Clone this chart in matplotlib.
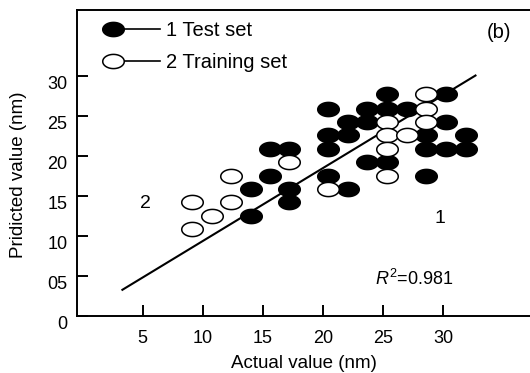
import matplotlib
matplotlib.use("Agg")
import matplotlib.pyplot as plt
import numpy as np
from matplotlib.path import Path
from matplotlib.legend_handler import HandlerLine2D
from matplotlib.lines import Line2D

plt.rcParams['font.family'] = ['Liberation Sans', 'DejaVu Sans']
plt.rcParams['mathtext.fontset'] = 'custom'
plt.rcParams['mathtext.rm'] = 'Liberation Sans'
plt.rcParams['mathtext.it'] = 'Liberation Sans:italic'

# test set (filled)
test_x = [25.35, 30.27, 20.44, 23.69, 25.35, 26.97, 22.11, 23.69, 30.27,
          20.44, 22.11, 28.62, 31.91, 15.59, 17.19, 20.44, 28.62, 30.27,
          31.91, 23.69, 25.35, 15.59, 20.44, 28.62, 13.98, 17.19, 22.11,
          17.19, 13.98]
test_y = [27.75, 27.75, 25.88, 25.88, 25.88, 25.88, 24.29, 24.29, 24.29,
          22.63, 22.63, 22.63, 22.63, 20.88, 20.88, 20.88, 20.88, 20.88,
          20.88, 19.21, 19.21, 17.54, 17.54, 17.54, 15.88, 15.88, 15.88,
          14.21, 12.46]

# training set (open)
train_x = [28.62, 28.62, 25.35, 28.62, 25.35, 26.97, 25.35, 17.19, 12.31,
           25.35, 20.44, 9.07, 12.31, 10.73, 9.07]
train_y = [27.75, 25.88, 24.29, 24.29, 22.63, 22.63, 20.88, 19.21, 17.54,
           17.54, 15.88, 14.21, 14.21, 12.46, 10.88]

# fitted line
fit_slope = 0.911
fit_icpt = 0.27
fit_x = [3.3, 32.7]

xticks = [5, 10, 15, 20, 25, 30]
xlabels = ["5", "10", "15", "20", "25", "30"]
yticks = [0, 5, 10, 15, 20, 25, 30]
ylabels = ["0", "05", "10", "15", "20", "25", "30"]

# ellipse marker (wider than tall)
t = np.linspace(0, 2 * np.pi, 60)
ell = Path(np.column_stack([np.cos(t), 0.66 * np.sin(t)]), closed=True)


class LeftMarker(HandlerLine2D):
    # marker sits at the left end of the legend line
    def create_artists(self, legend, orig_handle, xdescent, ydescent,
                       width, height, fontsize, trans):
        y = (height - ydescent) / 2
        xd = [-xdescent, width - xdescent]
        line = Line2D(xd, [y, y])
        self.update_prop(line, orig_handle, legend)
        line.set_marker('None')
        mark = Line2D(xd[:1], [y])
        self.update_prop(mark, orig_handle, legend)
        mark.set_linestyle('None')
        line.set_transform(trans)
        mark.set_transform(trans)
        return [line, mark]


fig = plt.figure(figsize=(5.3, 3.73), dpi=100)
ax = fig.add_axes([77 / 530, 57 / 373, 453 / 530, 306 / 373])

fx = np.array(fit_x)
ax.plot(fx, fit_slope * fx + fit_icpt, color='black', lw=1.5, zorder=2)
ax.plot(test_x, test_y, ls='none', marker=ell, ms=15.5, mfc='black',
        mec='black', mew=1.1, zorder=3)
ax.plot(train_x, train_y, ls='none', marker=ell, ms=15.5, mfc='white',
        mec='black', mew=1.1, zorder=4)

ax.set_xlim(-0.48, 37.24)
ax.set_ylim(0, 38.25)
ax.set_xticks(xticks)
ax.set_xticklabels(xlabels)
ax.set_yticks(yticks)
ax.set_yticklabels(ylabels, va='top')
ax.tick_params(direction='in', length=8, width=1.4, labelsize=13)
ax.tick_params(axis='x', pad=10)
ax.tick_params(axis='y', pad=7)

ax.spines['right'].set_visible(False)
for s in ['left', 'bottom', 'top']:
    ax.spines[s].set_linewidth(1.4)

ax.set_xlabel("Actual value (nm)", fontsize=13.5)
ax.xaxis.set_label_coords(0.501, -0.154)
ax.xaxis.label.set_va('center')
ax.set_ylabel("Pridicted value (nm)", fontsize=13.5)
ax.yaxis.set_label_coords(-0.130, 0.46)
ax.yaxis.label.set_va('center')

h1 = Line2D([], [], color='black', lw=1.2, marker=ell, ms=15.5,
            mfc='black', mec='black', mew=1.1)
h2 = Line2D([], [], color='black', lw=1.2, marker=ell, ms=15.5,
            mfc='white', mec='black', mew=1.1)
ax.legend([h1, h2], ["1 Test set", "2 Training set"],
          handler_map={h1: LeftMarker(), h2: LeftMarker()},
          loc='upper left', bbox_to_anchor=(0.079, 0.965), frameon=False,
          fontsize=14.5, borderpad=0, borderaxespad=0, handlelength=2.35,
          handletextpad=0.3, labelspacing=0.65)

ax.text(0.931, 0.925, "(b)", transform=ax.transAxes, fontsize=14.5,
        ha='center', va='center')
ax.text(5.18, 14.1, "2", fontsize=14, ha='center', va='center')
ax.text(29.74, 12.2, "1", fontsize=14, ha='center', va='center')
ax.text(24.3, 4.6, r"$\mathit{R}^{2}$=0.981", fontsize=13, ha='left', va='center')

fig.savefig("out.png", dpi=100)
